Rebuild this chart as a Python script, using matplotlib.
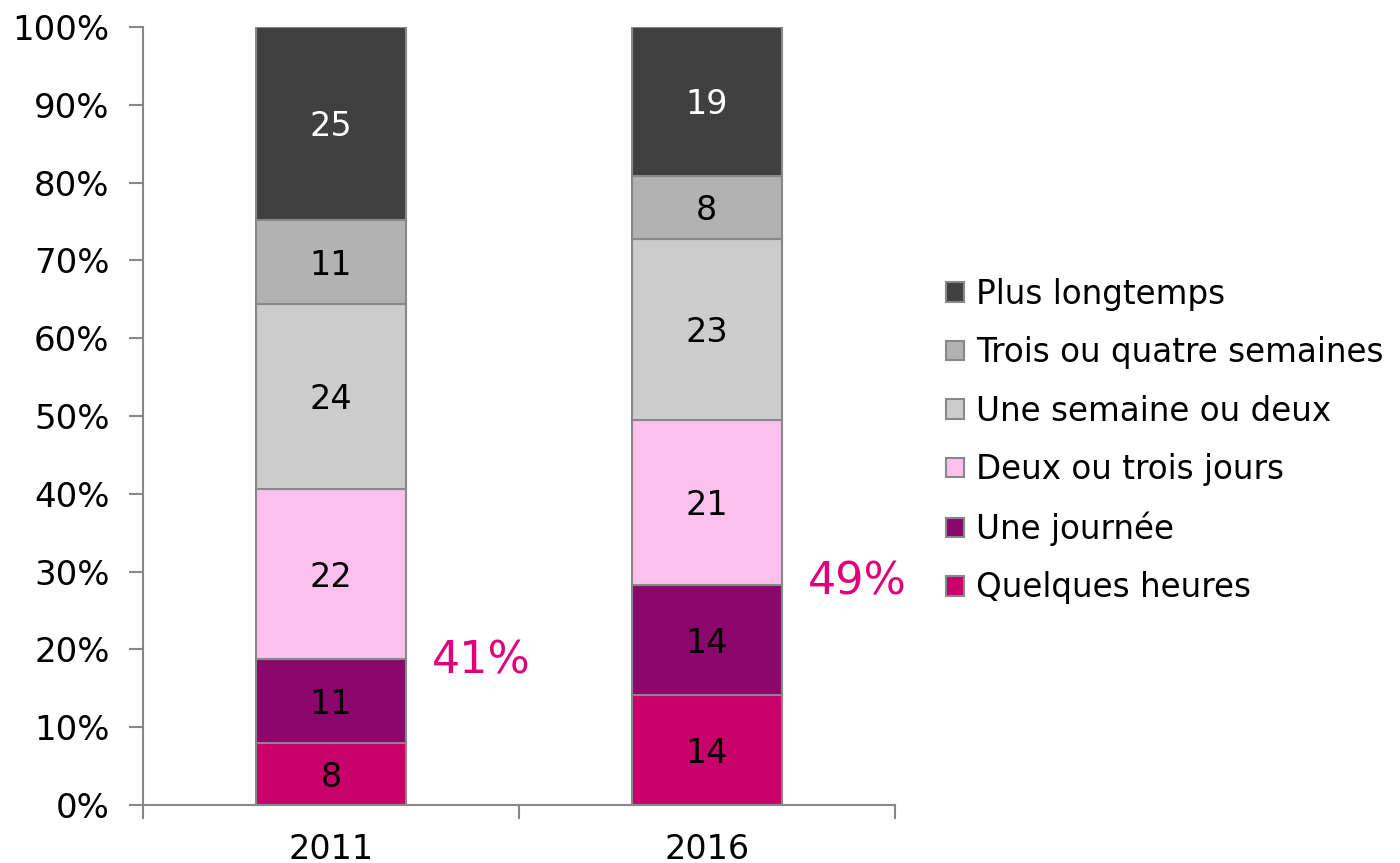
import matplotlib.pyplot as plt
import numpy as np

years = ["2011", "2016"]
categories = ["Quelques heures", "Une journée", "Deux ou trois jours",
              "Une semaine ou deux", "Trois ou quatre semaines", "Plus longtemps"]
values_2011 = [8, 11, 22, 24, 11, 25]
values_2016 = [14, 14, 21, 23, 8, 19]
colors = ["#C8006A", "#8B076B", "#FBC0EE", "#CCCCCC", "#B2B2B2", "#404040"]
label_colors = ["black", "black", "black", "black", "black", "white"]
totals_text = ["41%", "49%"]
totals_y = [18.5, 28.6]

plt.rcParams['font.family'] = ['DejaVu Sans']

fig = plt.figure(figsize=(14, 8.63), dpi=100)
ax = fig.add_axes([0.1021, 0.0672, 0.5369, 0.9015])

data = np.array([values_2011, values_2016], dtype=float)
shares = data / data.sum(axis=1, keepdims=True) * 100
x = np.arange(len(years))
bottom = np.zeros(len(years))
handles = []
for i, cat in enumerate(categories):
    h = ax.bar(x, shares[:, i], 0.4, bottom=bottom, color=colors[i],
               edgecolor="#888888", linewidth=1.5, label=cat)
    handles.append(h)
    for j in range(len(years)):
        ax.text(x[j], bottom[j] + shares[j, i] / 2 - 0.4, str(int(data[j, i])),
                ha="center", va="center", fontsize=24, color=label_colors[i])
    bottom += shares[:, i]

# share of the three shortest durations
for j in range(len(years)):
    ax.text(x[j] + 0.27, totals_y[j], totals_text[j], ha="left", va="center",
            fontsize=32, color="#E0007A")

ax.set_xlim(-0.5, 1.5)
ax.set_ylim(0, 100)
ax.set_yticks(np.arange(0, 101, 10))
ax.set_yticklabels([f"{v}%" for v in range(0, 101, 10)], fontsize=24.5)
ax.set_xticks(x)
ax.set_xticklabels(years, fontsize=24)
ax.set_xticks([-0.5, 0.5, 1.5], minor=True)
ax.tick_params(axis="x", which="major", length=0, pad=20)
ax.tick_params(axis="x", which="minor", length=10, width=1.5, color="#888888")
ax.tick_params(axis="y", length=10, width=1.5, color="#888888", pad=14)
for s in ["top", "right"]:
    ax.spines[s].set_visible(False)
for s in ["left", "bottom"]:
    ax.spines[s].set_color("#888888")
    ax.spines[s].set_linewidth(1.5)

leg = fig.legend(handles[::-1], categories[::-1], loc="center left",
                 bbox_to_anchor=(0.676, 0.489), frameon=False, fontsize=23.5,
                 handlelength=0.55, handleheight=0.55, handletextpad=0.35,
                 labelspacing=0.78, borderaxespad=0, borderpad=0)

fig.savefig("out.png", dpi=100)
